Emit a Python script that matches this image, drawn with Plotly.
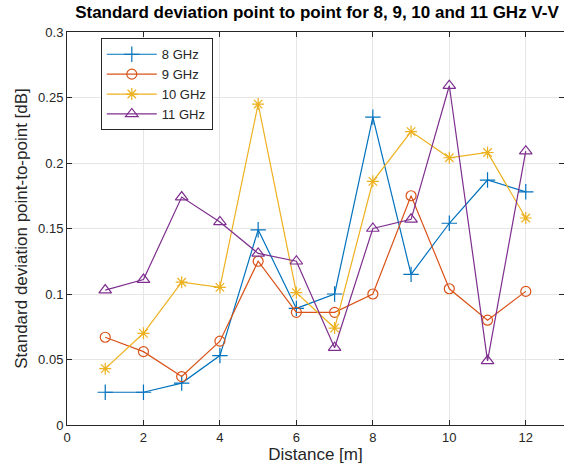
import plotly.graph_objects as go

distance = [1, 2, 3, 4, 5, 6, 7, 8, 9, 10, 11, 12]
ghz8 = [0.025, 0.025, 0.032, 0.053, 0.149, 0.089, 0.100, 0.235, 0.115, 0.154, 0.187, 0.178]
ghz9 = [0.067, 0.056, 0.037, 0.064, 0.125, 0.086, 0.086, 0.100, 0.175, 0.104, 0.080, 0.102]
ghz10 = [0.043, 0.070, 0.109, 0.105, 0.245, 0.101, 0.074, 0.186, 0.224, 0.204, 0.208, 0.158]
ghz11 = [0.103, 0.111, 0.174, 0.155, 0.131, 0.125, 0.059, 0.150, 0.157, 0.259, 0.049, 0.209]

series_names = ["8 GHz", "9 GHz", "10 GHz", "11 GHz"]
colors = ["#0072BD", "#D95319", "#EDB120", "#7E2F8E"]
symbols = ["cross-thin-open", "circle-open", "asterisk-open", "triangle-up-open"]
sizes = [11, 10, 10, 11]

fig = go.Figure()
for name, vals, c, s, sz in zip(series_names, [ghz8, ghz9, ghz10, ghz11], colors, symbols, sizes):
    fig.add_trace(go.Scatter(
        x=distance, y=vals, name=name, mode="lines+markers",
        line=dict(color=c, width=1.2),
        marker=dict(symbol=s, size=sz, color=c, line=dict(color=c, width=1.2)),
    ))

font = "Liberation Sans, Arial, sans-serif"
fig.update_layout(
    width=564, height=476,
    margin=dict(l=67, r=0, t=32, b=51),
    paper_bgcolor="white", plot_bgcolor="white",
    font=dict(family=font, size=13, color="#262626"),
    title=dict(text="<b>Standard deviation point to point for 8, 9, 10 and 11 GHz V-V</b>",
               x=0.562, xanchor="center", y=0.975, yanchor="middle",
               font=dict(size=17, color="black")),
    showlegend=True,
    legend=dict(x=0.068, y=0.984, xanchor="left", yanchor="top",
                bgcolor="white", bordercolor="#262626", borderwidth=1,
                font=dict(size=13, color="#262626"), tracegroupgap=0, itemwidth=50),
)
fig.update_xaxes(
    range=[0, 13], tickvals=[0, 2, 4, 6, 8, 10, 12],
    title=dict(text="Distance [m]", standoff=4, font=dict(size=17)),
    showgrid=True, gridcolor="#e6e6e6", zeroline=False,
    showline=True, linecolor="#262626", linewidth=1, mirror="ticks",
    ticks="inside", ticklen=5, tickcolor="#262626",
)
fig.update_yaxes(
    range=[0, 0.3], tickvals=[0, 0.05, 0.1, 0.15, 0.2, 0.25, 0.3],
    ticktext=["0", "0.05", "0.1", "0.15", "0.2", "0.25", "0.3"],
    title=dict(text="Standard deviation point-to-point [dB]", standoff=6, font=dict(size=17)),
    showgrid=True, gridcolor="#e6e6e6", zeroline=False,
    showline=True, linecolor="#262626", linewidth=1, mirror="ticks",
    ticks="inside", ticklen=5, tickcolor="#262626",
)
fig.write_html("out.html")
